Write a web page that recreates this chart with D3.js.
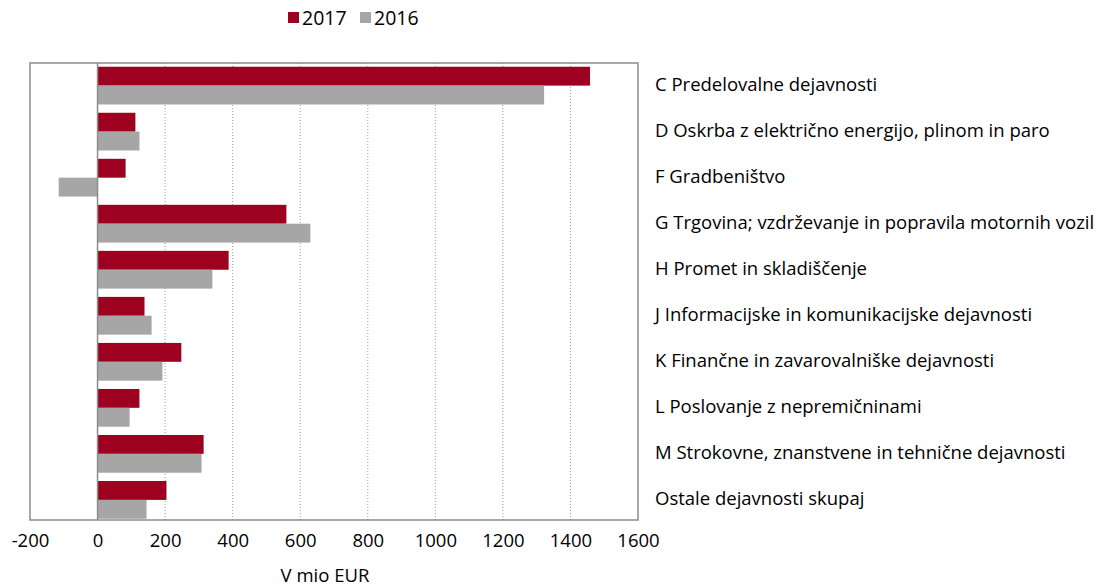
<!DOCTYPE html>
<html lang="sl">
<head>
    <meta charset="utf-8">
    <title>Dejavnosti</title>
    <style>
        body{ margin:0; background:#fff; }
        text{ font-family: "Open Sans", "Noto Sans", sans-serif; fill:#000; }
    </style>
    <script src="https://cdn.jsdelivr.net/npm/d3@7"></script>
</head>
<body>
<div id="chart"></div>
<script>
    // podatki
    var categories = [
        "C Predelovalne dejavnosti",
        "D Oskrba z električno energijo, plinom in paro",
        "F Gradbeništvo",
        "G Trgovina; vzdrževanje in popravila motornih vozil",
        "H Promet in skladiščenje",
        "J Informacijske in komunikacijske dejavnosti",
        "K Finančne in zavarovalniške dejavnosti",
        "L Poslovanje z nepremičninami",
        "M Strokovne, znanstvene in tehnične dejavnosti",
        "Ostale dejavnosti skupaj"
    ];
    var values2017 = [1458, 112, 83, 559, 388, 139, 248, 124, 314, 204];
    var values2016 = [1322, 124, -115, 630, 340, 160, 192, 95, 308, 145];
    var xTicks = [-200, 0, 200, 400, 600, 800, 1000, 1200, 1400, 1600];
    var seriesNames = ["2017", "2016"];
    var colors = ["#9e0020", "#a6a6a6"];

    var W = 1099, H = 587;
    var mLeft = 30, mRight = 638, mTop = 63, mBottom = 520;

    var svg = d3.select("#chart").append("svg")
        .attr("width", W).attr("height", H);

    var x = d3.scaleLinear().domain([-200, 1600]).range([mLeft, mRight]);
    var y = d3.scaleBand().domain(categories).range([62.6, 522.9]).paddingInner(0.18).paddingOuter(0.09);
    var ySub = d3.scaleBand().domain(seriesNames).range([0, y.bandwidth()]);

    // mreža
    svg.append("g").selectAll("line")
        .data(xTicks.filter(function (t) { return t > 0 && t < 1600; }))
        .enter().append("line")
        .attr("x1", function (d) { return x(d); }).attr("x2", function (d) { return x(d); })
        .attr("y1", mTop).attr("y2", mBottom)
        .attr("stroke", "#9a9a9a").attr("stroke-width", 1)
        .attr("stroke-dasharray", "1,2");

    // okvir
    svg.append("rect")
        .attr("x", mLeft).attr("y", mTop)
        .attr("width", mRight - mLeft).attr("height", mBottom - mTop)
        .attr("fill", "none").attr("stroke", "#8c8c8c").attr("stroke-width", 1.5);

    // stolpci
    var rows = categories.map(function (c, i) {
        return [{cat: c, s: "2017", v: values2017[i]}, {cat: c, s: "2016", v: values2016[i]}];
    });
    svg.append("g").selectAll("g").data(rows).enter().append("g")
        .attr("transform", function (d) { return "translate(0," + y(d[0].cat) + ")"; })
        .selectAll("rect").data(function (d) { return d; }).enter().append("rect")
        .attr("x", function (d) { return x(Math.min(0, d.v)); })
        .attr("y", function (d) { return ySub(d.s); })
        .attr("width", function (d) { return Math.abs(x(d.v) - x(0)); })
        .attr("height", ySub.bandwidth())
        .attr("fill", function (d) { return colors[seriesNames.indexOf(d.s)]; });

    // ničelna črta
    svg.append("line")
        .attr("x1", x(0)).attr("x2", x(0)).attr("y1", mTop).attr("y2", mBottom)
        .attr("stroke", "#8c8c8c").attr("stroke-width", 1.5);

    // os x
    var xAxis = svg.append("g")
        .attr("transform", "translate(0," + mBottom + ")")
        .call(d3.axisBottom(x).tickValues(xTicks).tickSize(0).tickPadding(14)
            .tickFormat(function (d) { return String(d); }));
    xAxis.select(".domain").remove();
    xAxis.selectAll("text").attr("font-size", 18.5).attr("font-family", null).attr("fill", "#000");

    svg.append("text")
        .attr("x", 325).attr("y", 582)
        .attr("text-anchor", "middle").attr("font-size", 18.5)
        .text("V mio EUR");

    // oznake kategorij
    svg.append("g").selectAll("text").data(categories).enter().append("text")
        .attr("x", 655)
        .attr("y", function (d) { return y(d) + y.bandwidth() / 2 - 1; })
        .attr("dy", "0.35em")
        .attr("font-size", 18.5)
        .text(function (d) { return d; });

    // legenda
    var leg = svg.append("g").selectAll("g").data(seriesNames).enter().append("g")
        .attr("transform", function (d, i) { return "translate(" + (288 + i * 72) + ",12)"; });
    leg.append("rect").attr("width", 11).attr("height", 11)
        .attr("fill", function (d, i) { return colors[i]; });
    leg.append("text").attr("x", 14).attr("y", 6).attr("dy", "0.35em")
        .attr("font-size", 19.5).text(function (d) { return d; });
</script>
</body>
</html>
